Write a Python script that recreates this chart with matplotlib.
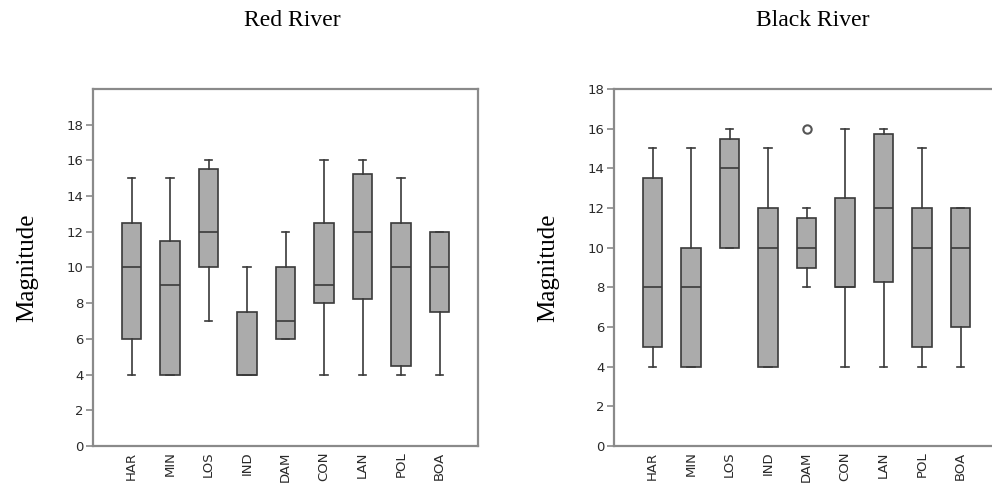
from matplotlib import pyplot as plt
import numpy as np

sites = ["HAR", "MIN", "LOS", "IND", "DAM", "CON", "LAN", "POL", "BOA"]

# Red River
red_low = [4, 4, 7, 4, 6, 4, 4, 4, 4]
red_q1 = [6, 4, 10, 4, 6, 8, 8.25, 4.5, 7.5]
red_med = [10, 9, 12, 4, 7, 9, 12, 10, 10]
red_q3 = [12.5, 11.5, 15.5, 7.5, 10, 12.5, 15.25, 12.5, 12]
red_high = [15, 15, 16, 10, 12, 16, 16, 15, 12]

# Black River
blk_low = [4, 4, 10, 4, 8, 4, 4, 4, 4]
blk_q1 = [5, 4, 10, 4, 9, 8, 8.25, 5, 6]
blk_med = [8, 8, 14, 10, 10, 8, 12, 10, 10]
blk_q3 = [13.5, 10, 15.5, 12, 11.5, 12.5, 15.75, 12, 12]
blk_high = [15, 15, 16, 15, 12, 16, 16, 15, 12]
blk_fliers = [[], [], [], [], [16], [], [], [], []]


def make_stats(low, q1, med, q3, high, fliers=None):
    stats = []
    for i in range(len(sites)):
        stats.append({"label": sites[i], "whislo": low[i], "q1": q1[i], "med": med[i],
                      "q3": q3[i], "whishi": high[i],
                      "fliers": fliers[i] if fliers else []})
    return stats


edge = "#3a3a3a"
frame = "#8a8a8a"
serif = ["Liberation Serif", "DejaVu Serif"]

fig = plt.figure(figsize=(9.92, 4.86), dpi=100)
ax1 = fig.add_axes([93/992, 40/486, 385/992, 357/486])
ax2 = fig.add_axes([614/992, 40/486, 385/992, 357/486])


def draw(ax, stats, ymax):
    ax.bxp(stats, positions=np.arange(1, 10), widths=0.5, capwidths=0.2,
           patch_artist=True,
           boxprops=dict(facecolor="#ababab", edgecolor=edge, linewidth=1.2),
           medianprops=dict(color=edge, linewidth=1.2),
           whiskerprops=dict(color=edge, linewidth=1.2),
           capprops=dict(color=edge, linewidth=1.2),
           flierprops=dict(marker="o", markerfacecolor="none", markeredgecolor="#555555",
                           markersize=6, markeredgewidth=1.5))
    ax.set_xlim(0, 10)
    ax.set_ylim(0, ymax)
    ax.set_yticks(np.arange(0, 19, 2))
    ax.set_xticks(np.arange(1, 10))
    ax.set_xticklabels(sites, rotation=90)
    for s in ax.spines.values():
        s.set_color(frame)
        s.set_linewidth(1.6)
    ax.tick_params(axis="y", length=5, width=1.2, color=frame, labelsize=9.5,
                   labelcolor="#2a2a2a", pad=2)
    ax.tick_params(axis="x", length=0, labelsize=9.5, labelcolor="#2a2a2a", pad=4)
    ax.set_ylabel("Magnitude", family=serif, fontsize=18, labelpad=20)


draw(ax1, make_stats(red_low, red_q1, red_med, red_q3, red_high), 20)
draw(ax2, make_stats(blk_low, blk_q1, blk_med, blk_q3, blk_high, blk_fliers), 18)

fig.text(292/992, 1 - 20/486, "Red River", family=serif, fontsize=17, ha="center", va="center")
fig.text(813/992, 1 - 20/486, "Black River", family=serif, fontsize=17, ha="center", va="center")

plt.savefig("out.png", dpi=100)
